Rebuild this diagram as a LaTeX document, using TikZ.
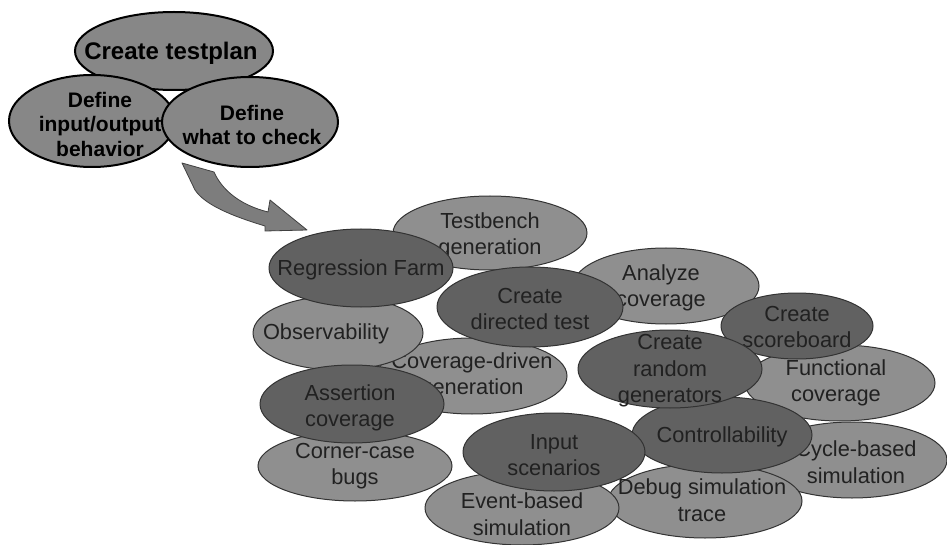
\documentclass[tikz,border=0pt]{standalone}
\usepackage{fontspec}
\setmainfont{Liberation Sans}
\usetikzlibrary{shapes.geometric}
\definecolor{bublight}{gray}{0.56}
\definecolor{bubdark}{gray}{0.38}
\definecolor{plangray}{gray}{0.53}
\definecolor{arrowgray}{gray}{0.49}
\definecolor{inkgray}{gray}{0.13}
\begin{document}
\begin{tikzpicture}[x=1pt,y=-1pt,
  bubble/.style={ellipse, draw=black!80, line width=1pt, inner sep=0pt},
  light/.style={bubble, fill=bublight},
  dark/.style={bubble, fill=bubdark},
  lbl/.style={align=center, text=inkgray, inner sep=0pt,
              font=\fontsize{21.8}{26.5}\selectfont},
  planbox/.style={ellipse, draw=black, line width=2pt, fill=plangray, inner sep=0pt},
  planlbl/.style={align=center, text=black, inner sep=0pt,
                  font=\bfseries\fontsize{21}{24.5}\selectfont},
  sz/.style 2 args={minimum width=#1pt, minimum height=#2pt},
]
\useasboundingbox (0,0) rectangle (947,545);

% --- test plan group ---
\node[planbox, sz={198}{78},
  label={[planlbl, font=\bfseries\fontsize{24}{28}\selectfont, xshift=-3pt, yshift=-2pt]center:Create testplan}]
  (plan) at (174,51) {};
\node[planbox, sz={166}{92},
  label={[planlbl, xshift=8pt, yshift=-3pt]center:Define\\input/output\\behavior}]
  (io) at (92,121) {};
\node[planbox, sz={176}{90},
  label={[planlbl, xshift=2pt, yshift=-3pt]center:Define\\what to check}]
  (check) at (250,122) {};

% --- curved block arrow from the plan to the activities ---
\coordinate (tailL) at (182,163);
\coordinate (tailR) at (214,172);
\coordinate (tip) at (307,230);
\filldraw[fill=arrowgray, draw=black!75, line width=0.8pt, line join=round]
  (tailL) -- (tailR) .. controls (222,190) and (240,205) .. (268,212)
  -- (270,200) -- (tip) -- (265,231) -- (265,226)
  .. controls (232,216) and (205,205) .. (195,190) -- cycle;

% --- verification activities ---
\node[light, sz={194}{74}, label={[lbl, yshift=-3pt]center:Testbench\\generation}] (tb) at (490,233) {};
\node[light, sz={186}{76}, label={[lbl, xshift=-5pt, yshift=-2pt]center:Analyze\\coverage}] (ac) at (666,286) {};
\node[light, sz={190}{76}, label={[lbl]center:Coverage-driven\\generation}] (cdg) at (472,376) {};
\node[light, sz={170}{74}, label={[lbl, xshift=-12pt, yshift=-1pt]center:Observability}] (obs) at (338,333) {};
\node[dark, sz={184}{78}, label={[lbl, yshift=-2pt]center:Regression Farm}] (rf) at (361,268) {};
\node[dark, sz={186}{80}, label={[lbl, yshift=-2pt]center:Create\\directed test}] (cdt) at (530,307) {};
\node[light, sz={190}{76}, label={[lbl, xshift=-4pt]center:Functional\\coverage}] (fc) at (840,383) {};
\node[dark, sz={152}{66}, label={[lbl, yshift=-1pt]center:Create\\scoreboard}] (sb) at (797,326) {};
\node[light, sz={190}{76}, label={[lbl, xshift=4pt, yshift=-2pt]center:Cycle-based\\simulation}] (cbs) at (852,460) {};
\node[light, sz={194}{70}, label={[lbl]center:Corner-case\\bugs}] (ccb) at (355,466) {};
\node[dark, sz={184}{78}, label={[lbl, xshift=-2pt, yshift=-4pt]center:Assertion\\coverage}] (asc) at (352,404) {};
\node[light, sz={194}{74}, label={[lbl, xshift=-3pt, yshift=1pt]center:Debug simulation\\trace}] (dst) at (705,501) {};
\node[light, sz={194}{74}, label={[lbl, yshift=-6pt]center:Event-based\\simulation}] (ebs) at (522,508) {};
\node[dark, sz={180}{76}, label={[lbl, yshift=-2pt]center:Controllability}] (ctl) at (722,435) {};
\node[dark, sz={182}{78}, label={[lbl, yshift=-3pt]center:Input\\scenarios}] (ins) at (554,452) {};
\node[dark, sz={184}{78}, label={[lbl, yshift=-2pt]center:Create\\random\\generators}] (crg) at (670,369) {};
\end{tikzpicture}
\end{document}
